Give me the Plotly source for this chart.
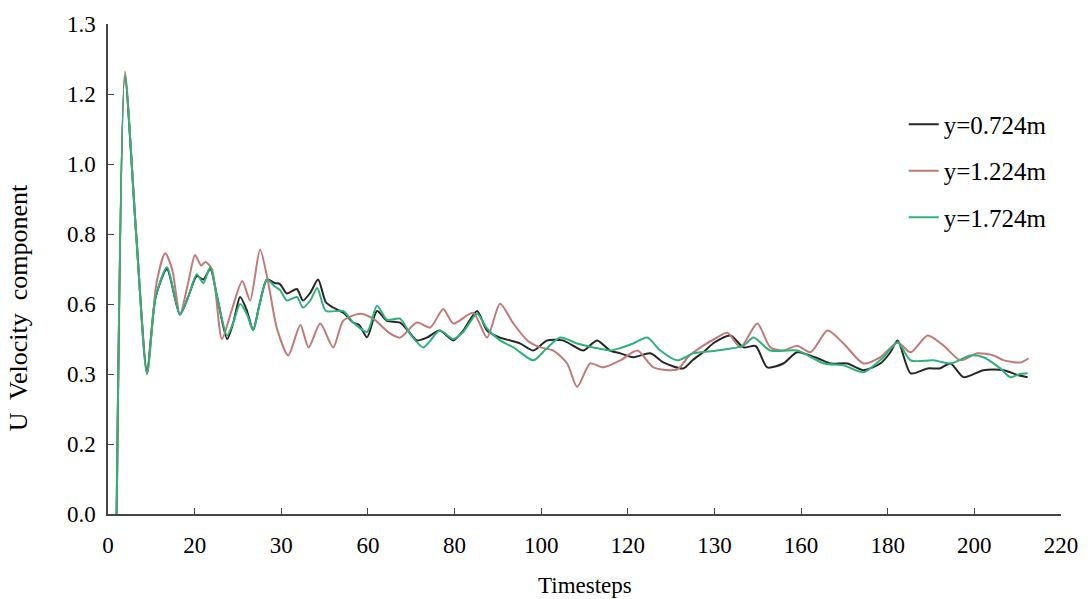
import plotly.graph_objects as go

# Axis tick labels as printed on the chart
x_tickvals = [0, 20, 40, 60, 80, 100, 120, 140, 160, 180, 200, 220]
x_ticktext = ["0", "20", "30", "60", "80", "100", "120", "130", "160", "180", "200", "220"]
y_tickvals = [0.0, 0.2, 0.4, 0.6, 0.8, 1.0, 1.2, 1.4]
y_ticktext = ["0.0", "0.2", "0.3", "0.6", "0.8", "1.0", "1.2", "1.3"]

# Series: y=0.724m (black)
x_0724 = [2.0, 3.9, 6.5, 9.0, 11.0, 13.6, 16.6, 18.5, 20.5, 22.0, 23.6, 25.2, 27.5, 29.0, 30.5,
          32.1, 33.5, 35.0, 36.7, 38.5, 39.7, 41.3, 43.6, 45.0, 46.7, 48.5, 50.3, 52.0, 54.3,
          56.6, 58.0, 59.8, 62.1, 64.4, 67.4, 69.5, 71.3, 73.6, 76.6, 79.7, 82.0, 85.2, 87.5,
          90.5, 92.8, 95.2, 98.2, 101.4, 105.0, 107.5, 109.7, 112.9, 115.9, 118.3, 121.2, 125.2,
          128.2, 132.8, 135.0, 137.4, 140.0, 143.7, 146.7, 149.5, 152.2, 155.9, 159.1, 163.8,
          166.8, 170.7, 174.4, 178.3, 180.5, 182.3, 185.3, 189.2, 192.0, 194.5, 197.5, 202.1,
          206.8, 210.0, 212.3]
y_0724 = [0.0, 1.25, 0.80, 0.41, 0.62, 0.70, 0.57, 0.62, 0.68, 0.67, 0.70, 0.62, 0.50, 0.55, 0.62,
          0.58, 0.525, 0.60, 0.67, 0.66, 0.657, 0.63, 0.643, 0.61, 0.632, 0.67, 0.605, 0.59, 0.575,
          0.547, 0.54, 0.505, 0.58, 0.552, 0.547, 0.52, 0.496, 0.504, 0.524, 0.496, 0.524, 0.58, 0.524,
          0.504, 0.496, 0.487, 0.467, 0.496, 0.496, 0.48, 0.467, 0.496, 0.467, 0.459, 0.448, 0.459,
          0.433, 0.416, 0.44, 0.462, 0.49, 0.51, 0.476, 0.48, 0.419, 0.43, 0.462, 0.445,
          0.43, 0.43, 0.411, 0.43, 0.46, 0.496, 0.402, 0.416, 0.416, 0.43, 0.391, 0.411,
          0.411, 0.397, 0.391]

# Series: y=1.224m (red)
x_1224 = [2.0, 3.9, 6.5, 9.0, 11.2, 13.2, 14.8, 16.6, 18.5, 20.1, 21.5, 22.5, 24.0, 26.3, 28.5,
          31.0, 32.8, 35.1, 37.0, 39.0, 41.6, 44.4, 46.3, 49.0, 52.0, 54.3, 58.2, 61.2, 65.1,
          67.4, 71.3, 74.4, 77.4, 79.7, 84.3, 87.5, 90.5, 93.6, 96.8, 99.8, 102.8, 106.0, 108.3,
          111.3, 114.3, 118.3, 122.2, 125.9, 131.4, 134.0, 137.4, 140.0, 143.0, 146.0, 149.9,
          152.9, 155.9, 159.1, 162.2, 166.1, 169.8, 174.4, 178.3, 182.3, 185.3, 189.2, 192.9,
          196.8, 200.7, 204.4, 206.8, 210.7, 212.5]
y_1224 = [0.0, 1.265, 0.80, 0.40, 0.66, 0.745, 0.70, 0.57, 0.66, 0.74, 0.71, 0.72, 0.70, 0.50, 0.58,
          0.666, 0.61, 0.756, 0.66, 0.53, 0.453, 0.54, 0.476, 0.544, 0.476, 0.552, 0.572, 0.558, 0.516,
          0.504, 0.547, 0.533, 0.586, 0.544, 0.575, 0.504, 0.601, 0.544, 0.496, 0.476, 0.467, 0.43, 0.363,
          0.43, 0.419, 0.439, 0.467, 0.419, 0.413, 0.45, 0.481, 0.50, 0.518, 0.476, 0.544,
          0.476, 0.467, 0.481, 0.462, 0.524, 0.487, 0.43, 0.448, 0.49, 0.462, 0.51, 0.481,
          0.439, 0.459, 0.453, 0.439, 0.433, 0.445]

# Series: y=1.724m (green)
x_1724 = [2.0, 3.9, 6.5, 9.0, 11.0, 13.6, 16.6, 18.5, 20.5, 22.0, 23.6, 25.2, 27.5, 29.0, 30.5,
          32.1, 33.5, 35.0, 36.7, 38.5, 39.7, 41.3, 43.6, 45.0, 46.7, 48.3, 50.3, 54.3, 56.6,
          59.8, 62.1, 64.4, 67.4, 70.0, 72.8, 76.6, 79.7, 82.0, 85.2, 87.5, 90.5, 93.6, 98.2,
          101.0, 104.4, 108.3, 112.0, 115.9, 118.5, 121.2, 124.5, 127.5, 131.4, 135.1, 140.6,
          146.7, 149.0, 152.9, 159.1, 165.2, 169.8, 174.4, 179.0, 182.3, 185.3, 190.6, 194.5,
          199.1, 202.1, 206.0, 208.3, 210.5, 212.3]
y_1724 = [0.0, 1.255, 0.80, 0.40, 0.62, 0.705, 0.57, 0.62, 0.685, 0.66, 0.705, 0.62, 0.51, 0.55, 0.60,
          0.57, 0.525, 0.60, 0.67, 0.65, 0.64, 0.61, 0.62, 0.59, 0.61, 0.646, 0.58, 0.58, 0.547,
          0.52, 0.595, 0.555, 0.558, 0.51, 0.476, 0.524, 0.50, 0.52, 0.572, 0.53, 0.496, 0.476, 0.439,
          0.47, 0.504, 0.487, 0.476, 0.467, 0.475, 0.487, 0.504, 0.467, 0.439, 0.459, 0.467,
          0.481, 0.504, 0.467, 0.467, 0.43, 0.425, 0.405, 0.448, 0.49, 0.439, 0.439, 0.43,
          0.453, 0.448, 0.416, 0.391, 0.40, 0.402]

series = [
    ("y=0.724m", x_0724, y_0724, "#262626"),
    ("y=1.224m", x_1224, y_1224, "#c07a7a"),
    ("y=1.724m", x_1724, y_1724, "#2fb07c"),
]

FONT = "Liberation Serif"

fig = go.Figure()
for i, (name, xs, ys, col) in enumerate(series):
    fig.add_trace(go.Scatter(
        x=xs, y=ys, mode="lines", name=name, legendgroup=f"g{i}",
        line=dict(color=col, width=2.0, shape="spline", smoothing=0.7),
    ))

fig.update_layout(
    width=1090, height=599,
    margin=dict(l=108, r=28, t=20, b=85),
    paper_bgcolor="white", plot_bgcolor="white",
    font=dict(family=FONT, size=23, color="black"),
    showlegend=True,
    legend=dict(x=0.835, y=0.842, xanchor="left", yanchor="top",
                font=dict(family=FONT, size=25, color="black"),
                bgcolor="rgba(0,0,0,0)", tracegroupgap=11),
    xaxis=dict(range=[0, 220], tickvals=x_tickvals, ticktext=x_ticktext,
               showgrid=False, zeroline=False, showline=True, linecolor="#444", linewidth=1.5,
               ticks="inside", ticklen=6, tickcolor="#444",
               tickfont=dict(family=FONT, size=23), ticklabelstandoff=10),
    yaxis=dict(range=[0, 1.4], tickvals=y_tickvals, ticktext=y_ticktext,
               showgrid=False, zeroline=False, showline=True, linecolor="#444", linewidth=1.5,
               ticks="inside", ticklen=6, tickcolor="#444",
               tickfont=dict(family=FONT, size=23), ticklabelstandoff=6),
    annotations=[
        dict(text="Timesteps", xref="paper", yref="paper", x=0.5, y=0,
             yshift=-71, showarrow=False, font=dict(family=FONT, size=23), yanchor="middle"),
        dict(text="U  Velocity  component", xref="paper", yref="paper", x=0, y=0.42,
             xshift=-90, showarrow=False, textangle=-90, font=dict(family=FONT, size=26),
             xanchor="center", yanchor="middle"),
    ],
)

fig.write_html("out.html")
